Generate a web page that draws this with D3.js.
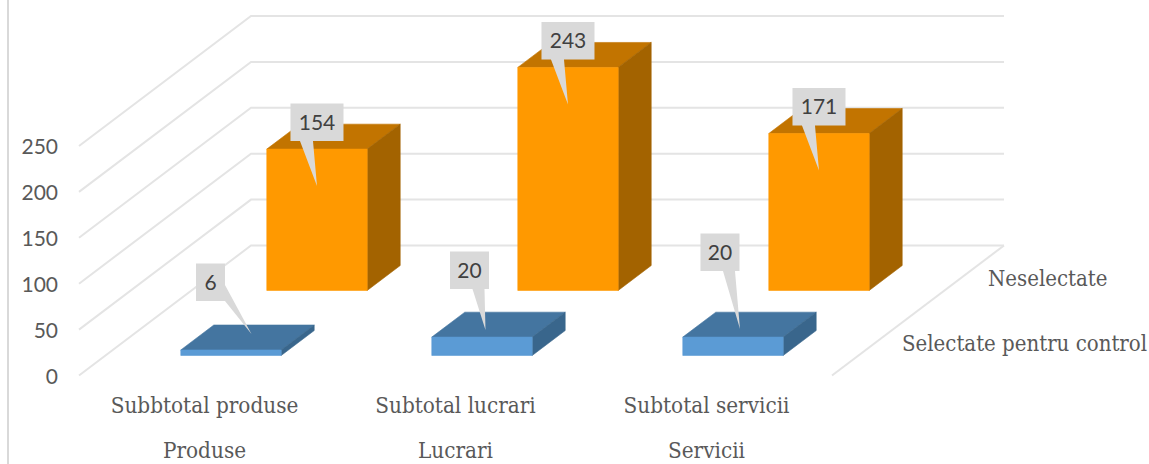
<!DOCTYPE html>
<html><head><meta charset="utf-8">
<script src="https://cdn.jsdelivr.net/npm/d3@7"></script>
<style>html,body{margin:0;padding:0;background:#fff}svg{display:block}</style>
</head><body><svg id="c" width="1149" height="464"></svg>
<script>
const categories = ["Subbtotal produse","Subtotal lucrari","Subtotal servicii"];
const groups = ["Produse","Lucrari","Servicii"];
const seriesNames = ["Selectate pentru control","Neselectate"];
const selectate = [6,20,20];
const neselectate = [154,243,171];
const yTicks = [0,50,100,150,200,250];

const svg = d3.select("#c");
const DX = 172, DY = -130;
const x = d3.scaleBand().domain(categories).range([79,832]).paddingInner(.6).paddingOuter(.3);
const cat = d3.scaleBand().domain(categories).range([79,832]);
const y = d3.scaleLinear().domain([0,250]).range([375.5,146]);
const z = d3.scaleBand().domain(seriesNames).range([0,1]).paddingInner(.616).paddingOuter(.308);
const P = (px,v,d)=>[px+DX*d, y(v)+DY*d];
const poly = pts => "M"+pts.map(p=>p.join(",")).join("L")+"Z";

svg.append("line").attr("x1",8).attr("x2",8).attr("y1",0).attr("y2",464).attr("stroke","#d9d9d9").attr("stroke-width",2);

// walls
const grid = svg.append("g").attr("fill","none").attr("stroke","#e4e4e4").attr("stroke-width",2);
yTicks.forEach(t=>{
  grid.append("path").attr("d","M"+[P(79,t,0),P(79,t,1),P(832,t,1)].map(p=>p.join(",")).join("L"));
});
grid.append("path").attr("d","M"+[P(832,0,1),P(832,0,0)].map(p=>p.join(",")).join("L"));

// y axis labels
const ax = svg.append("g").attr("transform","translate(66,0)").call(d3.axisLeft(y).tickValues(yTicks).tickSize(0).tickPadding(8));
ax.select(".domain").remove();
ax.selectAll("text").attr("font-family","Lato, sans-serif").attr("font-size",21).attr("fill","#595959").attr("dy","0.36em");

const palette = {
  "Selectate pentru control":{front:"#5b9bd5",top:"#4475a0",side:"#39668c"},
  "Neselectate":{front:"#ff9900",top:"#c27400",side:"#a36300"}
};
function bar(name,c,v){
  const col = palette[name], x0=x(c), x1=x0+x.bandwidth(), d0=z(name), d1=d0+z.bandwidth();
  const g = svg.append("g").attr("stroke-width",.6).attr("stroke-linejoin","round");
  g.append("path").attr("d",poly([P(x0,v,d0),P(x0,v,d1),P(x1,v,d1),P(x1,v,d0)])).attr("fill",col.top).attr("stroke",col.top);
  g.append("path").attr("d",poly([P(x1,0,d0),P(x1,0,d1),P(x1,v,d1),P(x1,v,d0)])).attr("fill",col.side).attr("stroke",col.side);
  g.append("path").attr("d",poly([P(x0,0,d0),P(x1,0,d0),P(x1,v,d0),P(x0,v,d0)])).attr("fill",col.front).attr("stroke",col.front);
}
categories.forEach((c,i)=>{ bar(seriesNames[1],c,neselectate[i]); });
categories.forEach((c,i)=>{ bar(seriesNames[0],c,selectate[i]); });

// callouts: offset of the box and tip from the bar's top-front centre
const LABEL_W = [[29,39,39],[53,53,53]];
const tipOff = [[[20.5,-16],[3.5,-7],[7,-8]],[[0,37],[0,37],[0,37]]];
const boxOff = [[[-20.5,-49],[-12.5,-48],[-13,-66]],[[0,-8],[0,-8],[0,-8]]];
function callout(si,ci,v){
  const name = seriesNames[si], c = categories[ci];
  const [fx,fy] = P(x(c)+x.bandwidth()/2,v,z(name));
  const tip = [fx+tipOff[si][ci][0], fy+tipOff[si][ci][1]];
  const w = LABEL_W[si][ci], h=37.5;
  const cx = fx+boxOff[si][ci][0], bot = fy+boxOff[si][ci][1];
  const g = svg.append("g");
  const l = cx-w/2, r=cx+w/2, t=bot-h;
  const pts = si===1
    ? [[l,t],[r,t],[r,bot],[cx-4,bot],tip,[cx-17,bot],[l,bot]]
    : ci===0 ? [[l,t],[r,t],[r,bot-16],tip,[r,bot],[l,bot]]
    : [[l,t],[r,t],[r,bot],[cx+15,bot],tip,[cx+3,bot],[l,bot]];
  g.append("path").attr("d",poly(pts)).attr("fill","#d9d9d9");
  g.append("text").attr("x",cx).attr("y",bot-h/2).attr("dy","0.36em").attr("text-anchor","middle")
   .attr("font-family","Lato, sans-serif").attr("font-size",21).attr("fill","#404040").text(v);
}
neselectate.forEach((v,i)=>callout(1,i,v));
selectate.forEach((v,i)=>callout(0,i,v));

// category labels
const serif = "'DejaVu Serif Condensed', 'DejaVu Serif', serif";
const tx = (s,xx,yy,anchor,fs)=>svg.append("text").attr("x",xx).attr("y",yy).attr("text-anchor",anchor||"middle")
  .attr("font-family",serif).attr("font-stretch","condensed").attr("font-size",fs||22.3).attr("fill","#595959").text(s);
categories.forEach((c,i)=>{
  const m = cat(c)+cat.bandwidth()/2;
  tx(c,m,413);
  tx(groups[i],m,458);
});
seriesNames.forEach(n=>{
  const d = z(n)+z.bandwidth()/2;
  const p = P(832,0,d);
  tx(n,p[0]+27,p[1]+8,"start",22);
});
</script></body></html>
